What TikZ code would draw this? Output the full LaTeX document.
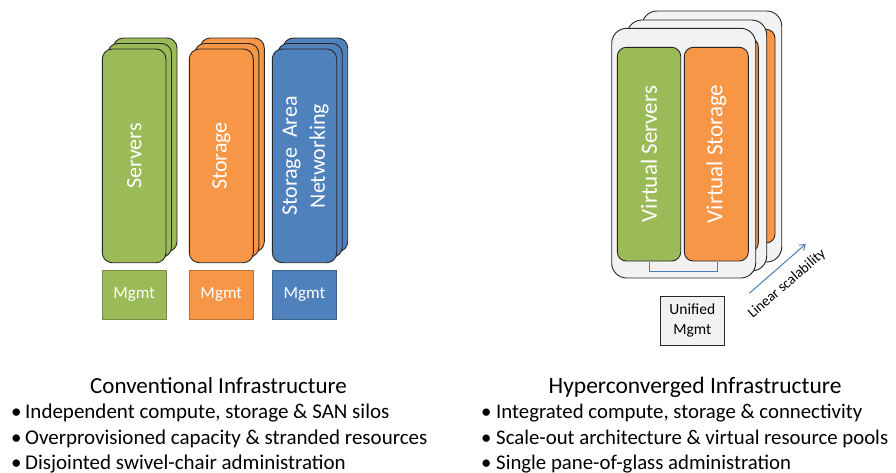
\documentclass[tikz,border=0pt]{standalone}
\usepackage{fontspec}
\setmainfont{Carlito}
\usetikzlibrary{arrows.meta}
\definecolor{cgreen}{HTML}{9BBB59}
\definecolor{corange}{HTML}{F79646}
\definecolor{cblue}{HTML}{4F81BD}
\definecolor{cline}{HTML}{262626}
\definecolor{cpanel}{HTML}{F2F2F2}
\definecolor{carrow}{HTML}{4A7EBB}
\begin{document}
\begin{tikzpicture}[x=1pt,y=-1pt,
  slab/.style={draw=cline, line width=0.9pt, rounded corners=10pt},
  container/.style={draw=cline, line width=0.9pt, fill=cpanel, rounded corners=15pt},
  panel/.style={draw=cline, line width=0.9pt, rounded corners=9pt},
  vlabel/.style={rotate=90, text=white, font=\fontsize{22}{28}\selectfont, align=center},
  mgmtbox/.style={minimum width=63.7pt, minimum height=49.3pt, inner sep=0pt, text=white,
    font=\fontsize{17}{20}\selectfont, line width=0.8pt},
  btext/.style={anchor=base west, inner sep=0pt, font=\fontsize{21}{25}\selectfont},
  ttext/.style={anchor=base, inner sep=0pt, font=\fontsize{23}{27}\selectfont},
  bracket/.style={draw=carrow, line width=0.9pt},
  scalearrow/.style={draw=carrow, line width=1pt, -{Straight Barb[length=5pt,width=7pt]}}]
\useasboundingbox (0,0) rectangle (896,472);
\fill[white] (0,0) rectangle (896,472);

% ---- conventional stacks ----
\foreach \xa/\xb/\c in {102.3/166/cgreen, 189.3/253.3/corange, 272.3/336.7/cblue} {
  \foreach \o in {11,5.5,0} {
    \draw[slab, fill=\c] (\xa+\o, 49-\o) rectangle (\xb+\o, 262.7-\o);
  }
}
\node[vlabel] (servers) at (134.2,156) {Servers};
\node[vlabel] (storage) at (221.3,156) {Storage};
\node[vlabel] (san) at (305.5,156) {Storage\ \ Area\\Networking};

\node[mgmtbox, fill=cgreen, draw=cgreen!75!black] (m1) at (134.2,294.7) {Mgmt};
\node[mgmtbox, fill=corange, draw=corange!75!black] (m2) at (221.3,294.7) {Mgmt};
\node[mgmtbox, fill=cblue, draw=cblue!75!black] (m3) at (304.5,294.7) {Mgmt};

% ---- hyperconverged nodes ----
\draw[container] (642,11) rectangle (781.7,262);
\draw[panel, fill=corange] (712,29.3) rectangle (775,243);
\draw[container] (627,20) rectangle (766.7,271);
\draw[panel, fill=corange] (697,38) rectangle (758.3,252);
\draw[container] (611.7,28.3) rectangle (755.7,278);
\draw[panel, fill=cgreen] (617.3,47.3) rectangle (680.7,261);
\draw[panel, fill=corange] (684.3,47.3) rectangle (748.3,261);
\node[vlabel, font=\fontsize{23}{28}\selectfont] (vs) at (649,154) {Virtual Servers};
\node[vlabel, font=\fontsize{23}{28}\selectfont] (vst) at (716.3,154) {Virtual Storage};

\coordinate (b1) at (649.3,261.5);
\coordinate (b2) at (717.3,261.5);
\draw[bracket] (b1) -- ++(0,10.2) -| (b2);

\node[draw=cline, fill=cpanel, line width=0.8pt, minimum width=63.3pt, minimum height=48.3pt,
  inner sep=0pt, align=center, font=\fontsize{15.5}{20}\selectfont] (um) at (692.3,320.8) {Unified\\Mgmt};

\coordinate (a1) at (749.3,293.3);
\coordinate (a2) at (805.7,244);
\draw[scalearrow] (a1) -- (a2);
\node[rotate=41, font=\fontsize{14.5}{17}\selectfont, inner sep=0pt] (ls) at (787,284) {Linear scalability};

% ---- texts ----
\node[ttext] (t1) at (218.5,393.3) {Conventional Infrastructure};
\node[btext] (l1) at (11,418.3) {\makebox[14pt][l]{•}Independent compute, storage \& SAN silos};
\node[btext] (l2) at (11,444) {\makebox[14pt][l]{•}Overprovisioned capacity \& stranded resources};
\node[btext] (l3) at (11,469.3) {\makebox[14pt][l]{•}Disjointed swivel-chair administration};

\node[ttext, font=\fontsize{23.5}{27}\selectfont] (t2) at (695,393.3) {Hyperconverged Infrastructure};
\node[btext, font=\fontsize{20.8}{25}\selectfont] (r1) at (481,418.3) {\makebox[15pt][l]{•}Integrated compute, storage \& connectivity};
\node[btext, font=\fontsize{20.8}{25}\selectfont] (r2) at (481,444) {\makebox[15pt][l]{•}Scale-out architecture \& virtual resource pools};
\node[btext, font=\fontsize{20.8}{25}\selectfont] (r3) at (481,469.3) {\makebox[15pt][l]{•}Single pane-of-glass administration};
\end{tikzpicture}
\end{document}
